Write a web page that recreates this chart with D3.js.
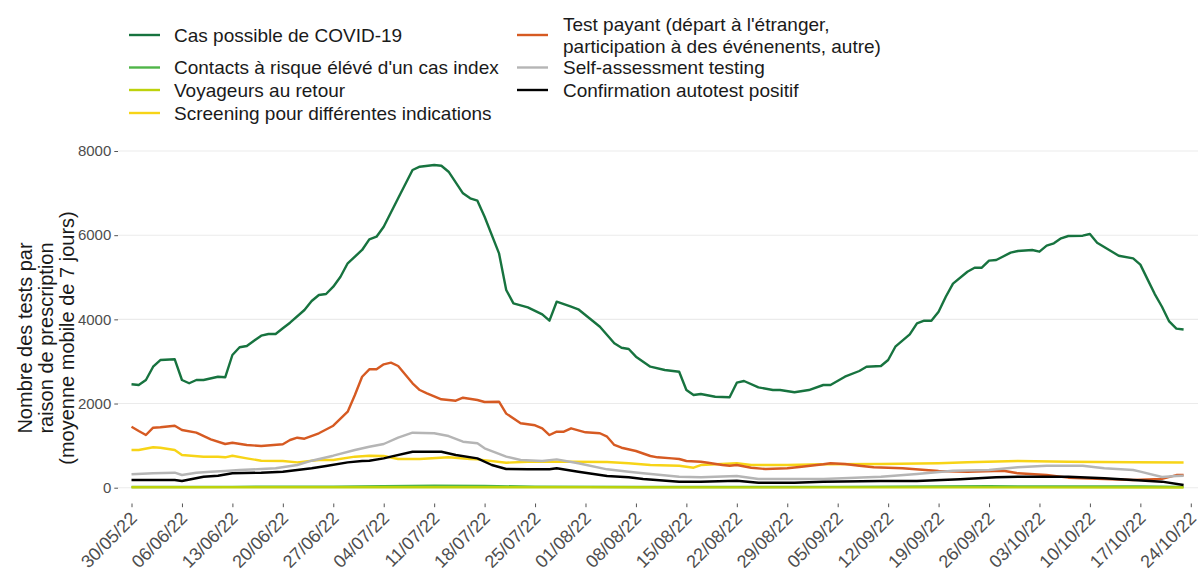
<!DOCTYPE html>
<html>
<head>
<meta charset="utf-8">
<script src="https://cdn.jsdelivr.net/npm/d3@7"></script>
<style>
  body { margin: 0; background: #fff; }
  #chart { width: 1201px; height: 579px; }
  text { font-family: "Liberation Sans", Arial, sans-serif; }
</style>
</head>
<body>
<div id="chart"></div>
<script>
// jours depuis le 30/05/22 et valeurs
const joursCas = [0,1,2,3,4,6,7,8,9,10,12,13,14,15,16,17,18,19,20,21,22,24,25,26,27,28,29,30,32,33,34,35,37,39,40,42,43,44,46,47,48,49,51,52,53,55,57,58,59,61,62,65,67,68,69,70,72,74,76,77,78,79,81,83,84,85,87,89,90,92,94,96,97,99,101,102,104,105,106,108,109,110,111,112,113,114,116,117,118,119,120,122,123,125,126,127,128,129,130,132,133,134,137,139,140,141,142,143,144,145,146];
const valeursCas = [2457,2440,2559,2875,3034,3051,2559,2481,2559,2559,2637,2623,3153,3336,3367,3493,3612,3652,3652,3787,3920,4222,4436,4579,4602,4776,5013,5332,5648,5902,5964,6201,6876,7549,7627,7667,7650,7508,6995,6876,6819,6439,5569,4697,4381,4286,4120,3968,4419,4301,4239,3825,3431,3326,3296,3113,2875,2797,2756,2321,2203,2226,2162,2148,2495,2535,2385,2321,2321,2267,2321,2440,2440,2637,2773,2875,2892,3034,3350,3645,3906,3968,3968,4182,4538,4850,5132,5227,5227,5394,5410,5584,5624,5648,5608,5750,5807,5926,5980,5988,6028,5821,5512,5450,5300,4950,4600,4300,3950,3780,3760];

const joursContacts = [0,14,28,42,49,56,70,84,98,112,119,126,140,146];
const valeursContacts = [15,20,25,45,40,25,15,15,20,30,35,30,30,20];

const joursVoyageurs = [0,30,60,90,120,146];
const valeursVoyageurs = [10,12,10,8,8,6];

const joursScreening = [0,1,3,4,6,7,10,12,13,14,16,18,21,23,26,28,31,33,35,37,40,44,47,48,52,55,59,61,66,69,72,76,78,79,84,86,91,96,104,112,116,123,130,139,146];
const valeursScreening = [896,896,960,950,896,777,737,737,722,760,698,641,634,603,658,658,737,760,753,682,682,722,682,674,594,618,618,618,610,580,539,523,475,539,580,539,539,556,563,580,603,634,618,603,600];

const joursPayant = [0,1,2,3,4,6,7,9,11,13,14,16,18,21,22,23,24,26,28,30,31,32,33,34,35,36,37,39,40,41,43,45,46,48,49,51,52,54,56,57,58,59,60,61,63,65,66,67,68,70,72,73,75,76,77,79,80,82,83,84,86,88,91,93,96,97,99,101,103,104,107,112,116,121,123,127,130,135,139,143,145,146];
const valeursPayant = [1449,1347,1252,1426,1435,1473,1371,1307,1150,1038,1069,1015,991,1031,1133,1188,1164,1293,1473,1806,2203,2637,2813,2813,2932,2970,2892,2480,2321,2243,2100,2067,2138,2084,2036,2043,1760,1530,1483,1411,1252,1331,1331,1411,1316,1293,1212,1015,950,872,753,722,698,682,634,618,594,539,523,539,475,444,461,499,556,580,563,523,485,480,461,397,380,404,342,302,238,207,183,210,300,300];

const joursSelf = [0,3,6,7,9,11,13,15,18,20,23,25,28,31,33,35,37,39,42,44,46,48,49,52,54,57,59,62,66,69,71,76,79,84,87,96,104,109,114,119,123,127,132,135,139,140,143,145,146];
const valeursSelf = [318,342,356,302,356,380,397,421,444,461,539,641,760,896,974,1038,1188,1307,1293,1228,1093,1055,936,737,658,634,674,580,437,380,342,261,247,278,207,207,261,325,404,421,485,523,523,461,421,380,254,277,285];

const joursAutotest = [0,3,6,7,10,12,14,18,21,23,25,27,30,32,33,35,36,39,43,45,48,50,52,55,58,59,62,66,69,71,76,79,84,87,92,96,104,109,115,120,123,130,135,139,143,146];
const valeursAutotest = [183,183,183,159,261,285,342,356,380,421,461,516,603,634,641,698,737,855,855,777,698,539,444,437,437,461,380,278,247,207,143,143,166,119,119,143,159,159,200,247,261,261,223,183,143,64];

const nomsSeries = [
    "Cas possible de COVID-19",
    "Contacts à risque élévé d'un cas index",
    "Voyageurs au retour",
    "Screening pour différentes indications",
    "Test payant (départ à l'étranger,\nparticipation à des événenents, autre)",
    "Self-assessment testing",
    "Confirmation autotest positif"
];
const joursSeries = [joursCas, joursContacts, joursVoyageurs, joursScreening, joursPayant, joursSelf, joursAutotest];
const valeursSeries = [valeursCas, valeursContacts, valeursVoyageurs, valeursScreening, valeursPayant, valeursSelf, valeursAutotest];

const yTicks = [0, 2000, 4000, 6000, 8000];
const titreY = ["Nombre des tests par", "raison de prescription", "(moyenne mobile de 7 jours)"];

// styles
const couleurs = ["#17733f", "#4fb548", "#bdd20c", "#f7d417", "#d65a22", "#b5b5b5", "#000000"];

function drawChart() {
    const div_id = "#chart";
    const win_width = 1201, win_height = 579;

    const debut = new Date(Date.UTC(2022, 4, 30));
    const jour = d => d3.utcDay.offset(debut, d);

    let svg = d3.select(div_id)
        .append("svg")
        .attr("width", win_width)
        .attr("height", win_height);

    // panel
    const panel = {left: 118, right: 1198, top: 148, bottom: 503.5};

    let x = d3.scaleUtc()
        .domain([d3.utcHour.offset(debut, -45), d3.utcHour.offset(debut, 148 * 24)])
        .range([panel.left, panel.right]);

    let y = d3.scaleLinear()
        .domain([0, 8000])
        .range([487.7, 151]);

    // grid
    svg.append("g")
        .selectAll("line")
        .data(yTicks)
        .enter()
        .append("line")
        .attr("x1", panel.left)
        .attr("x2", panel.right)
        .attr("y1", d => y(d))
        .attr("y2", d => y(d))
        .style("stroke", "#ebebeb")
        .style("stroke-width", 1.1);

    // y axis
    let yAxis = svg.append("g")
        .attr("transform", "translate(" + panel.left + ",0)")
        .call(d3.axisLeft(y).tickValues(yTicks).tickSize(3.7).tickPadding(3).tickFormat(d3.format("d")));
    yAxis.select(".domain").remove();
    yAxis.selectAll(".tick line").style("stroke", "#555").style("stroke-width", 1);
    yAxis.selectAll(".tick text")
        .style("font-size", "15px")
        .style("fill", "#4d4d4d")
        .style("font-family", "Liberation Sans, Arial, sans-serif");

    // x axis
    const semaines = d3.utcDay.range(debut, d3.utcDay.offset(debut, 148), 7);
    let xAxis = svg.append("g")
        .attr("transform", "translate(0," + panel.bottom + ")")
        .call(d3.axisBottom(x).tickValues(semaines).tickSize(3.7).tickPadding(2).tickFormat(d3.utcFormat("%d/%m/%y")));
    xAxis.select(".domain").remove();
    xAxis.selectAll(".tick line").style("stroke", "#555").style("stroke-width", 1);
    xAxis.selectAll(".tick text")
        .attr("text-anchor", "end")
        .attr("x", 0)
        .attr("y", 0)
        .attr("dy", 0)
        .attr("transform", "translate(6,16) rotate(-45)")
        .style("font-size", "18px")
        .style("fill", "#4d4d4d")
        .style("font-family", "Liberation Sans, Arial, sans-serif");

    // y title
    svg.append("text")
        .attr("transform", "rotate(-90)")
        .attr("text-anchor", "middle")
        .style("font-size", "20px")
        .style("fill", "#1a1a1a")
        .selectAll("tspan")
        .data(titreY)
        .enter()
        .append("tspan")
        .attr("x", -338)
        .attr("y", (d, i) => 32 + i * 21)
        .text(d => d);

    // lines
    let line = d3.line()
        .x(d => x(jour(d[0])))
        .y(d => y(d[1]));

    svg.append("g")
        .selectAll("path")
        .data(nomsSeries.map((n, i) => joursSeries[i].map((j, k) => [j, valeursSeries[i][k]])))
        .enter()
        .append("path")
        .attr("d", line)
        .attr("fill", "none")
        .style("stroke", (d, i) => couleurs[i])
        .style("stroke-width", 2.4)
        .style("stroke-linejoin", "round");

    // legend (2 columns, by column)
    const legCols = [{key: 129, text: 174}, {key: 517, text: 563}];
    const legRows = [35, 67.5, 90, 113];
    let legend = svg.append("g");
    nomsSeries.forEach(function (nom, i) {
        let col = i < 4 ? 0 : 1;
        let row = i < 4 ? i : i - 4;
        let cy = legRows[row];
        legend.append("line")
            .attr("x1", legCols[col].key)
            .attr("x2", legCols[col].key + 31)
            .attr("y1", cy)
            .attr("y2", cy)
            .style("stroke", couleurs[i])
            .style("stroke-width", 2.4);
        let lignes = nom.split("\n");
        let t = legend.append("text")
            .style("font-size", "19px")
            .style("fill", "#1a1a1a");
        lignes.forEach(function (l, k) {
            t.append("tspan")
                .attr("x", legCols[col].text)
                .attr("y", cy + 6.8 + (k - (lignes.length - 1) / 2) * 21.7)
                .text(l);
        });
    });
}
drawChart();
</script>
</body>
</html>
